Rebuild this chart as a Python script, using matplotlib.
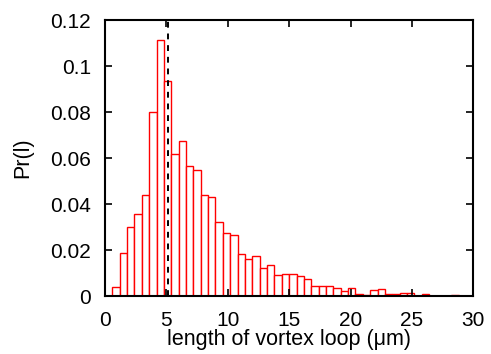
import numpy as np
import matplotlib

matplotlib.use("Agg")

import matplotlib.pyplot as plt

plt.rcParams["font.family"] = ["Liberation Sans", "DejaVu Sans"]

# histogram of vortex loop lengths, bins of width 0.6 starting at 0.6
BIN_WIDTH = 0.6
bin_left = np.arange(1, 50) * BIN_WIDTH
pr = [
    0.0038, 0.0186, 0.0299, 0.0357, 0.0438, 0.0799, 0.1111, 0.0935,
    0.0616, 0.0672, 0.0567, 0.0546, 0.0438, 0.0429, 0.0320, 0.0272,
    0.0267, 0.0184, 0.0162, 0.0175, 0.0120, 0.0135, 0.0091, 0.0097,
    0.0097, 0.0086, 0.0072, 0.0043, 0.0042, 0.0043, 0.0035, 0.0020,
    0.0033, 0.0009, 0.0003, 0.0025, 0.0029, 0.0010, 0.0009, 0.0013,
    0.0011, 0.0002, 0.0009, 0.0002, 0.0002, 0.0002, 0.0006, 0.0002,
    0.0001,
]
mean_length = 5.15

fig = plt.figure(figsize=(4.91, 3.54), dpi=100)
ax = fig.add_axes([0.2138, 0.1638, 0.964 - 0.2138, 0.9435 - 0.1638])

ax.bar(bin_left, pr, width=BIN_WIDTH, align="edge",
       facecolor="white", edgecolor="red", linewidth=1.0)
ax.axvline(mean_length, color="black", linestyle=(0, (3, 3)), linewidth=1.4)

ax.set_xlim(0, 30)
ax.set_ylim(0, 0.12)
ax.set_xticks([0, 5, 10, 15, 20, 25, 30])
ax.set_yticks([0, 0.02, 0.04, 0.06, 0.08, 0.1, 0.12])
ax.set_yticklabels(["0", "0.02", "0.04", "0.06", "0.08", "0.1", "0.12"])

ax.tick_params(direction="in", top=True, right=True, length=5, width=1.2,
               labelsize=15)
ax.tick_params(axis="y", pad=10)
ax.tick_params(axis="x", pad=11)
for s in ax.spines.values():
    s.set_linewidth(1.5)

ax.set_xlabel("length of vortex loop (μm)", fontsize=15.5, labelpad=-1)
ax.set_ylabel("Pr(l)", fontsize=15.5, labelpad=12)

fig.savefig("out.png", dpi=100)
